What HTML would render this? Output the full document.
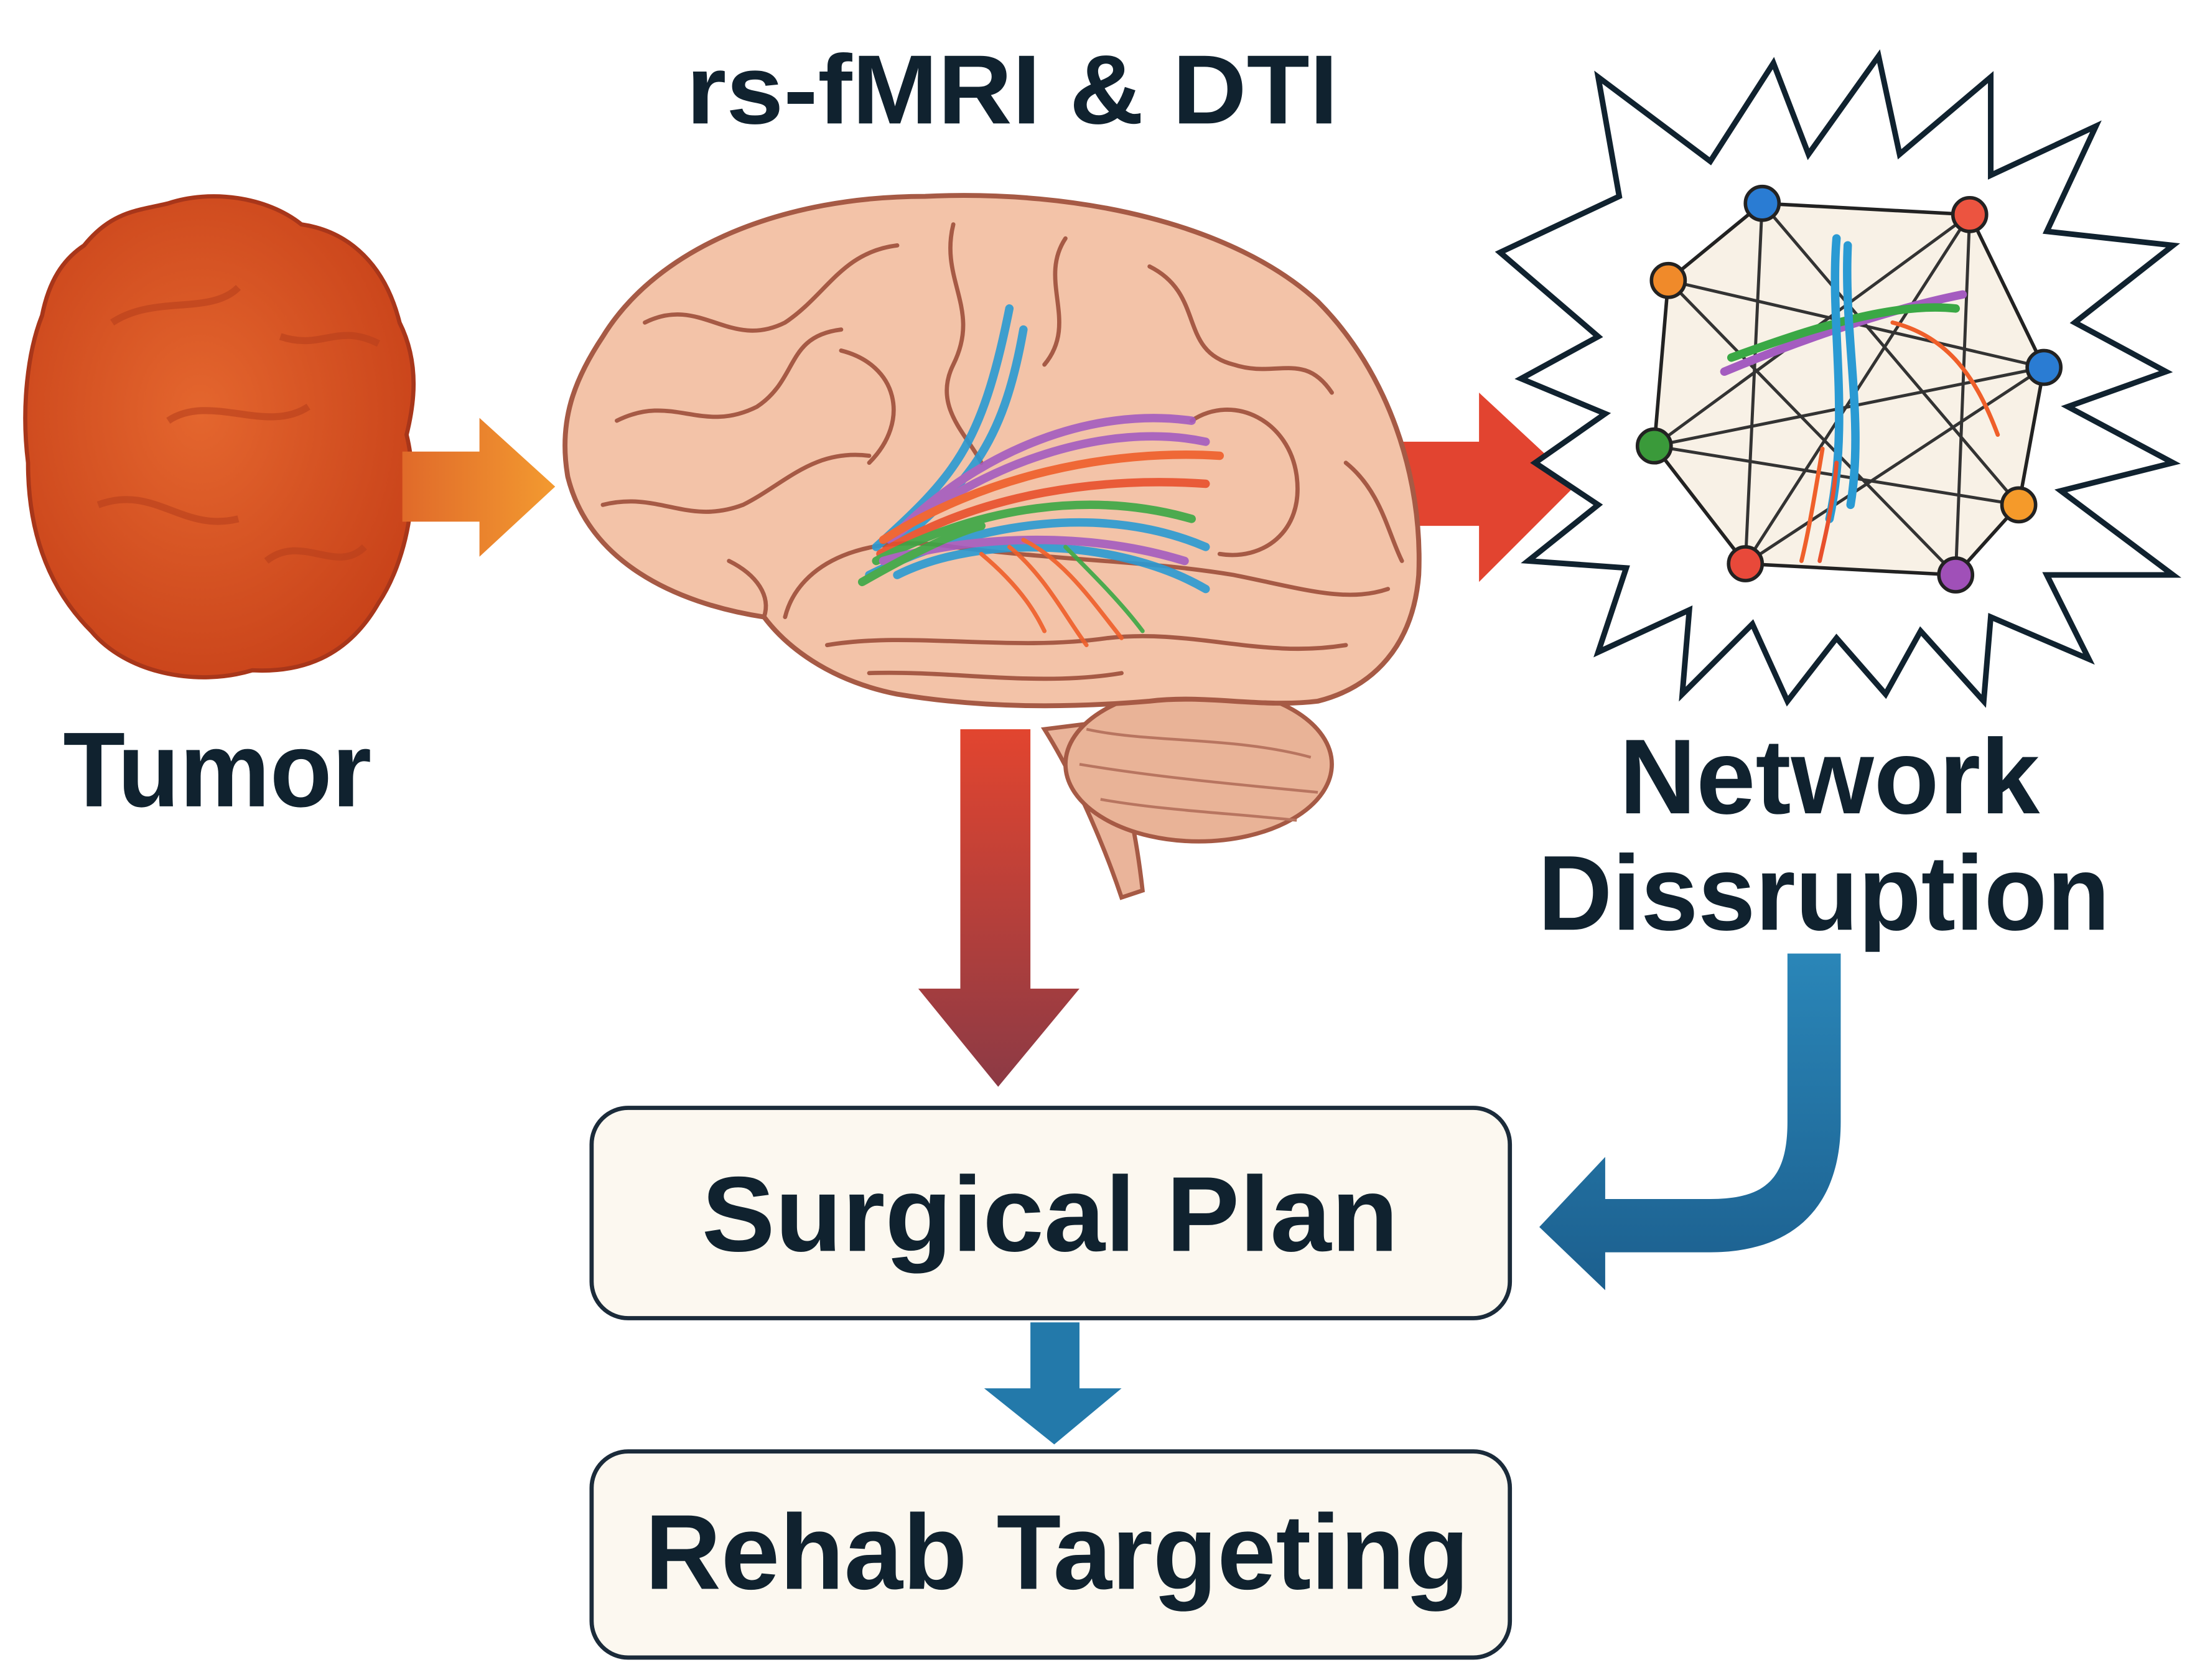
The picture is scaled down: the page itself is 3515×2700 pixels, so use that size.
<!DOCTYPE html>
<html><head><meta charset="utf-8"><style>
html,body{margin:0;padding:0;background:#fff;}
svg{display:block;}
text{font-family:"Liberation Sans",sans-serif;font-weight:bold;fill:#10222f;}
</style></head><body>
<svg width="3515" height="2700" viewBox="0 0 1560 1198" preserveAspectRatio="none" xmlns="http://www.w3.org/2000/svg">
<defs>
<linearGradient id="og" x1="0" x2="1"><stop offset="0" stop-color="#e06a2a"/><stop offset="1" stop-color="#f39a30"/></linearGradient>
<linearGradient id="rg" x1="0" y1="0" x2="0" y2="1"><stop offset="0" stop-color="#e2452f"/><stop offset="1" stop-color="#8c3a45"/></linearGradient>
<radialGradient id="tg" cx="0.45" cy="0.45" r="0.6"><stop offset="0" stop-color="#e4662e"/><stop offset="1" stop-color="#c9431a"/></radialGradient>
<linearGradient id="bg" x1="0" y1="0" x2="0" y2="1"><stop offset="0" stop-color="#2a86b8"/><stop offset="1" stop-color="#1c5f8e"/></linearGradient>
</defs>
<rect width="1560" height="1198" fill="#fff"/>
<!-- Tumor -->
<path d="M60,175 C80,150 100,150 120,145 C150,135 190,140 215,160 C250,165 275,190 285,230 C300,260 295,290 290,310 C300,350 290,400 270,430 C250,465 220,480 180,478 C140,490 90,480 65,450 C35,420 20,380 20,330 C15,290 20,250 30,225 C35,200 45,185 60,175Z" fill="url(#tg)" stroke="#a8361a" stroke-width="3"/>
<path d="M80,230 C110,210 150,225 170,205 M120,300 C150,280 190,310 220,290 M70,360 C110,345 130,380 170,370 M190,400 C215,380 240,410 260,390 M200,240 C230,250 240,230 270,245" stroke="#b8401c" stroke-width="5" fill="none" opacity="0.6"/>
<text x="155" y="575" font-size="76" text-anchor="middle" textLength="220" lengthAdjust="spacingAndGlyphs">Tumor</text>
<!-- Orange arrow -->
<path d="M287,322 H342 V298 L396,347 L342,397 V372 H287Z" fill="url(#og)"/>
<!-- Title -->
<text x="722" y="88" font-size="70" text-anchor="middle" textLength="465" lengthAdjust="spacingAndGlyphs">rs-fMRI &amp; DTI</text>
<!-- Red arrow right -->
<path d="M1000,315 H1055 V280 L1125,345 L1055,415 V375 H1000Z" fill="#e24430"/>
<!-- Red arrow down -->
<path d="M685,520 H735 V705 H770 L712,775 L655,705 H685Z" fill="url(#rg)"/>
<!-- Brain -->
<path d="M745,520 C770,560 790,610 800,640 L815,635 C810,590 800,545 785,515Z" fill="#eab49a" stroke="#a65a45" stroke-width="3"/>
<ellipse cx="855" cy="545" rx="95" ry="55" fill="#e9b397" stroke="#a65a45" stroke-width="3"/>
<path d="M775,520 C820,530 880,525 935,540 M770,545 C830,555 890,560 940,565 M785,570 C830,578 880,580 925,585" stroke="#b87560" stroke-width="2" fill="none"/>
<path d="M430,240 C470,175 560,140 660,140 C770,135 880,160 940,215 C990,265 1015,340 1012,410 C1008,460 980,490 940,500 C900,505 860,495 820,500 C760,505 700,505 640,495 C590,485 560,460 545,440 C480,430 420,400 405,340 C398,300 410,270 430,240Z" fill="#f3c3a8" stroke="#a65a45" stroke-width="3.5"/>
<g stroke="#a65a45" stroke-width="3" fill="none" stroke-linecap="round">
<path d="M460,230 C500,210 520,250 560,230 C590,210 600,180 640,175"/>
<path d="M440,300 C480,280 500,310 540,290 C570,270 560,240 600,235"/>
<path d="M430,360 C470,350 490,375 530,360 C560,345 580,320 620,325"/>
<path d="M680,160 C670,200 700,220 680,260 C665,290 690,310 700,330"/>
<path d="M760,170 C740,200 770,230 745,260"/>
<path d="M820,190 C860,210 840,250 880,260 C910,270 930,250 950,280"/>
<path d="M850,300 C880,280 920,300 925,340 C930,380 900,400 870,395"/>
<path d="M560,440 C570,400 620,380 680,390 C760,400 820,400 880,410 C930,420 960,430 990,420"/>
<path d="M590,460 C650,450 720,465 790,455 C850,448 900,470 960,460"/>
<path d="M620,480 C680,478 740,490 800,480"/>
<path d="M600,250 C640,260 650,300 620,330"/>
<path d="M960,330 C985,350 990,380 1000,400"/>
<path d="M520,400 C540,410 550,425 545,440"/>
</g>
<!-- fibers -->
<g fill="none" stroke-width="6" stroke-linecap="round" opacity="0.9">
<path d="M625,390 C680,340 700,320 720,220" stroke="#2a9ad3"/>
<path d="M632,395 C690,345 715,320 730,235" stroke="#2a9ad3"/>
<path d="M640,380 C700,320 780,290 850,300" stroke="#a45cc0"/>
<path d="M635,385 C700,330 790,300 860,315" stroke="#a45cc0"/>
<path d="M630,385 C700,340 790,320 870,325" stroke="#ef5f2a"/>
<path d="M628,395 C700,350 790,340 860,345" stroke="#e8502c"/>
<path d="M625,400 C700,360 780,350 850,370" stroke="#3aa845"/>
<path d="M620,410 C700,370 790,360 860,390" stroke="#2a9ad3"/>
<path d="M640,410 C700,380 800,385 860,420" stroke="#2a9ad3"/>
<path d="M630,400 C700,380 780,380 845,400" stroke="#a45cc0"/>
<path d="M730,385 C760,400 780,430 800,455" stroke="#ef5f2a" stroke-width="3"/>
<path d="M720,390 C745,410 760,440 775,460" stroke="#ef5f2a" stroke-width="3"/>
<path d="M760,390 C780,410 800,430 815,450" stroke="#3aa845" stroke-width="3"/>
<path d="M700,395 C730,420 740,440 745,450" stroke="#ef5f2a" stroke-width="3"/>
<path d="M615,415 C650,395 680,380 700,375" stroke="#3aa845"/>
</g>
<!-- Starburst -->
<path d="M1070,180 L1155,140 L1140,55 L1220,115 L1265,45 L1290,110 L1340,40 L1355,110 L1420,55 L1420,125 L1495,90 L1460,165 L1550,175 L1480,230 L1545,265 L1475,290 L1550,330 L1470,350 L1550,410 L1460,410 L1490,470 L1420,440 L1415,500 L1370,450 L1345,495 L1310,455 L1275,500 L1250,445 L1200,495 L1205,435 L1140,465 L1160,405 L1090,400 L1140,360 L1095,330 L1145,295 L1085,270 L1140,240 L1070,180Z" fill="#fff" stroke="#10222f" stroke-width="4" stroke-linejoin="miter"/>
<polygon points="1257,145 1405,153 1458,262 1440,360 1395,410 1245,402 1180,318 1190,200" fill="#f8f1e6" stroke="#222" stroke-width="2.5"/>
<g stroke="#333" stroke-width="2.2">
<line x1="1257" y1="145" x2="1440" y2="360"/><line x1="1257" y1="145" x2="1245" y2="402"/>
<line x1="1405" y1="153" x2="1180" y2="318"/><line x1="1405" y1="153" x2="1395" y2="410"/>
<line x1="1190" y1="200" x2="1458" y2="262"/><line x1="1190" y1="200" x2="1395" y2="410"/>
<line x1="1180" y1="318" x2="1458" y2="262"/><line x1="1180" y1="318" x2="1440" y2="360"/>
<line x1="1245" y1="402" x2="1458" y2="262"/><line x1="1245" y1="402" x2="1405" y2="153"/>
</g>
<g fill="none" stroke-width="6" stroke-linecap="round">
<path d="M1230,265 C1290,240 1350,220 1400,210" stroke="#a45cc0"/>
<path d="M1235,255 C1290,235 1350,215 1395,220" stroke="#3aa845"/>
<path d="M1310,170 C1305,230 1320,300 1305,370" stroke="#2a9ad3"/>
<path d="M1318,175 C1315,240 1330,300 1320,360" stroke="#2a9ad3"/>
<path d="M1350,230 C1390,240 1410,270 1425,310" stroke="#ef5f2a" stroke-width="3"/>
<path d="M1300,320 C1295,350 1290,380 1285,400" stroke="#ef5f2a" stroke-width="3"/>
<path d="M1310,330 C1308,360 1300,390 1298,400" stroke="#e8502c" stroke-width="3"/>
</g>
<g stroke="#222" stroke-width="2.5">
<circle cx="1257" cy="145" r="12" fill="#2a7cd3"/><circle cx="1405" cy="153" r="12" fill="#ec5440"/>
<circle cx="1190" cy="200" r="12" fill="#f08a2a"/><circle cx="1458" cy="262" r="12" fill="#2a7cd3"/>
<circle cx="1180" cy="318" r="12" fill="#3a9a3a"/><circle cx="1440" cy="360" r="12" fill="#f59a2a"/>
<circle cx="1245" cy="402" r="12" fill="#e8493a"/><circle cx="1395" cy="410" r="12" fill="#a050b8"/>
</g>
<text x="1305" y="580" font-size="76" text-anchor="middle" textLength="300" lengthAdjust="spacingAndGlyphs">Network</text>
<text x="1301" y="663" font-size="76" text-anchor="middle" textLength="408" lengthAdjust="spacingAndGlyphs">Dissruption</text>
<!-- Blue curved arrow -->
<path d="M1275,680 H1313 V800 C1313,860 1280,893 1220,893 H1145 V920 L1098,875 L1145,825 V855 H1220 C1260,855 1275,840 1275,800Z" fill="url(#bg)"/>
<!-- Surgical Plan box -->
<rect x="422" y="790" width="655" height="150" rx="26" fill="#fcf8f0" stroke="#1b2b3a" stroke-width="3"/>
<text x="749" y="892" font-size="76" text-anchor="middle" textLength="497" lengthAdjust="spacingAndGlyphs">Surgical Plan</text>
<!-- small blue arrow -->
<path d="M735,943 H770 V990 H800 L752,1030 L702,990 H735Z" fill="#2379aa"/>
<!-- Rehab box -->
<rect x="422" y="1035" width="655" height="147" rx="26" fill="#fcf8f0" stroke="#1b2b3a" stroke-width="3"/>
<text x="754" y="1133" font-size="76" text-anchor="middle" textLength="588" lengthAdjust="spacingAndGlyphs">Rehab Targeting</text>
</svg>
</body></html>
